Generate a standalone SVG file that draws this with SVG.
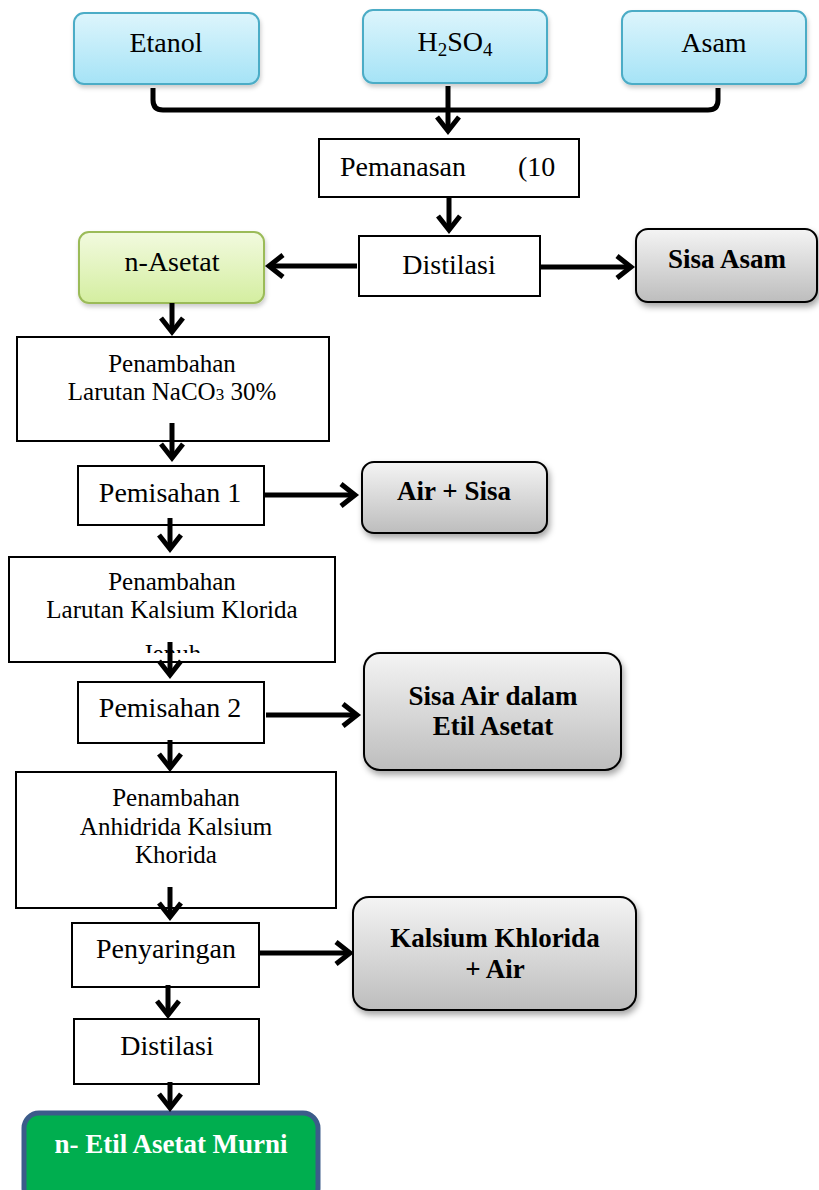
<svg xmlns="http://www.w3.org/2000/svg" width="819" height="1190" viewBox="0 0 819 1190">
<style>
.t{font-family:"Liberation Serif","Times New Roman",serif;fill:#000;text-anchor:middle}
.r{font-size:28px}
.m{font-size:25px}
.b{font-size:27px;font-weight:bold}
.box{fill:#fff;stroke:#000;stroke-width:2}
.blue{fill:url(#gBlue);stroke:#4BACC6;stroke-width:2}
.grey{fill:url(#gGrey);stroke:#000;stroke-width:2}
.conn{fill:none;stroke:#000;stroke-width:5}
</style>
<defs>
<linearGradient id="gBlue" x1="0" y1="0" x2="0" y2="1">
<stop offset="0" stop-color="#DDF5FC"/><stop offset="1" stop-color="#A5E3F6"/>
</linearGradient>
<linearGradient id="gGreen" x1="0" y1="0" x2="0" y2="1">
<stop offset="0" stop-color="#F2FADF"/><stop offset="1" stop-color="#D4EEA0"/>
</linearGradient>
<linearGradient id="gGrey" x1="0" y1="0" x2="0" y2="1">
<stop offset="0" stop-color="#F4F4F4"/><stop offset="1" stop-color="#BDBDBD"/>
</linearGradient>
<filter id="sh" x="-10%" y="-10%" width="125%" height="135%">
<feDropShadow dx="2" dy="4" stdDeviation="3" flood-color="#000" flood-opacity="0.35"/>
</filter>
<filter id="shs" x="-10%" y="-10%" width="125%" height="135%">
<feDropShadow dx="1" dy="3" stdDeviation="2" flood-color="#000" flood-opacity="0.2"/>
</filter>
<marker id="ah" viewBox="-18 -14 24 28" refX="0" refY="0" markerWidth="24" markerHeight="28" markerUnits="userSpaceOnUse" orient="auto">
<path d="M-14,-11 L0,0 L-14,11" fill="none" stroke="#000" stroke-width="5"/>
</marker>
<clipPath id="clipJ"><rect x="10" y="557" width="324" height="96"/></clipPath>
</defs>

<g id="etanol">
<rect class="blue" x="74" y="13" width="185" height="71" rx="10" filter="url(#shs)"/>
<text class="t r" x="166" y="52">Etanol</text>
</g>
<g id="h2so4">
<rect class="blue" x="363" y="10" width="184" height="73" rx="10" filter="url(#shs)"/>
<text class="t r" x="455" y="51">H<tspan font-size="19" dy="5">2</tspan><tspan dy="-5">SO</tspan><tspan font-size="19" dy="5">4</tspan></text>
</g>
<g id="asam">
<rect class="blue" x="622" y="11" width="184" height="73" rx="10" filter="url(#shs)"/>
<text class="t r" x="714" y="52">Asam</text>
</g>
<g id="pemanasan">
<rect class="box" x="319" y="139" width="260" height="58"/>
<text class="t r" x="340" y="176" style="text-anchor:start">Pemanasan<tspan x="518">(10</tspan></text>
</g>
<g id="distilasi1">
<rect class="box" x="359" y="236" width="181" height="60"/>
<text class="t r" x="449" y="274">Distilasi</text>
</g>
<g id="n-asetat">
<rect x="79" y="232" width="185" height="71" rx="10" fill="url(#gGreen)" stroke="#9BBB59" stroke-width="2" filter="url(#shs)"/>
<text class="t r" x="172" y="271">n-Asetat</text>
</g>
<g id="sisa-asam">
<rect class="grey" x="636" y="229" width="181" height="73" rx="12" filter="url(#sh)"/>
<text class="t b" x="727" y="268">Sisa Asam</text>
</g>
<g id="penambahan1">
<rect class="box" x="17" y="337" width="312" height="104"/>
<text class="t m" x="172" y="372">Penambahan</text>
<text class="t m" x="172" y="400">Larutan NaCO<tspan font-size="17">3</tspan> 30%</text>
</g>
<g id="pemisahan1">
<rect class="box" x="78" y="466" width="186" height="59"/>
<text class="t r" x="170" y="502">Pemisahan 1</text>
</g>
<g id="air-sisa">
<rect class="grey" x="362" y="462" width="185" height="71" rx="12" filter="url(#sh)"/>
<text class="t b" x="454" y="500">Air + Sisa</text>
</g>
<g id="penambahan2">
<rect class="box" x="9" y="557" width="326" height="105"/>
<text class="t m" x="172" y="590">Penambahan</text>
<text class="t m" x="172" y="618">Larutan Kalsium Klorida</text>
<text class="t m" x="172" y="662" clip-path="url(#clipJ)">Jenuh</text>
</g>
<g id="pemisahan2">
<rect class="box" x="78" y="682" width="186" height="61"/>
<text class="t r" x="170" y="717">Pemisahan 2</text>
</g>
<g id="sisa-air">
<rect class="grey" x="364" y="653" width="257" height="117" rx="16" filter="url(#sh)"/>
<text class="t b" x="493" y="705">Sisa Air dalam</text>
<text class="t b" x="493" y="735">Etil Asetat</text>
</g>
<g id="penambahan3">
<rect class="box" x="16" y="772" width="320" height="136"/>
<text class="t m" x="176" y="806">Penambahan</text>
<text class="t m" x="176" y="835">Anhidrida Kalsium</text>
<text class="t m" x="176" y="863">Khorida</text>
</g>
<g id="penyaringan">
<rect class="box" x="72" y="923" width="187" height="64"/>
<text class="t r" x="166" y="958">Penyaringan</text>
</g>
<g id="kalsium">
<rect class="grey" x="353" y="897" width="283" height="113" rx="16" filter="url(#sh)"/>
<text class="t b" x="495" y="947">Kalsium Khlorida</text>
<text class="t b" x="495" y="978">+ Air</text>
</g>
<g id="distilasi2">
<rect class="box" x="74" y="1019" width="185" height="65"/>
<text class="t r" x="167" y="1055">Distilasi</text>
</g>
<g id="etil-murni">
<rect x="24" y="1113" width="294" height="90" rx="15" fill="#00AE4F" stroke="#3C5C8A" stroke-width="5"/>
<text class="t b" x="171" y="1153" style="fill:#fff">n- Etil Asetat Murni</text>
</g>

<g id="connectors">
<path class="conn" d="M153 88 V100 Q153 110 163 110 H708 Q718 110 718 100 V88"/>
<path class="conn" d="M448 86 V131" marker-end="url(#ah)"/>
<path class="conn" d="M449 197 V230" marker-end="url(#ah)"/>
<path class="conn" d="M357 266 H269" marker-end="url(#ah)"/>
<path class="conn" d="M540 267 H631" marker-end="url(#ah)"/>
<path class="conn" d="M172 303 V332" marker-end="url(#ah)"/>
<path class="conn" d="M172 423 V458" marker-end="url(#ah)"/>
<path class="conn" d="M264 495 H355" marker-end="url(#ah)"/>
<path class="conn" d="M170 518 V549" marker-end="url(#ah)"/>
<path class="conn" d="M170 642 V675" marker-end="url(#ah)"/>
<path class="conn" d="M266 715 H357" marker-end="url(#ah)"/>
<path class="conn" d="M170 740 V768" marker-end="url(#ah)"/>
<path class="conn" d="M170 887 V917" marker-end="url(#ah)"/>
<path class="conn" d="M259 953 H350" marker-end="url(#ah)"/>
<path class="conn" d="M168 985 V1015" marker-end="url(#ah)"/>
<path class="conn" d="M170 1082 V1108" marker-end="url(#ah)"/>
</g>
</svg>
